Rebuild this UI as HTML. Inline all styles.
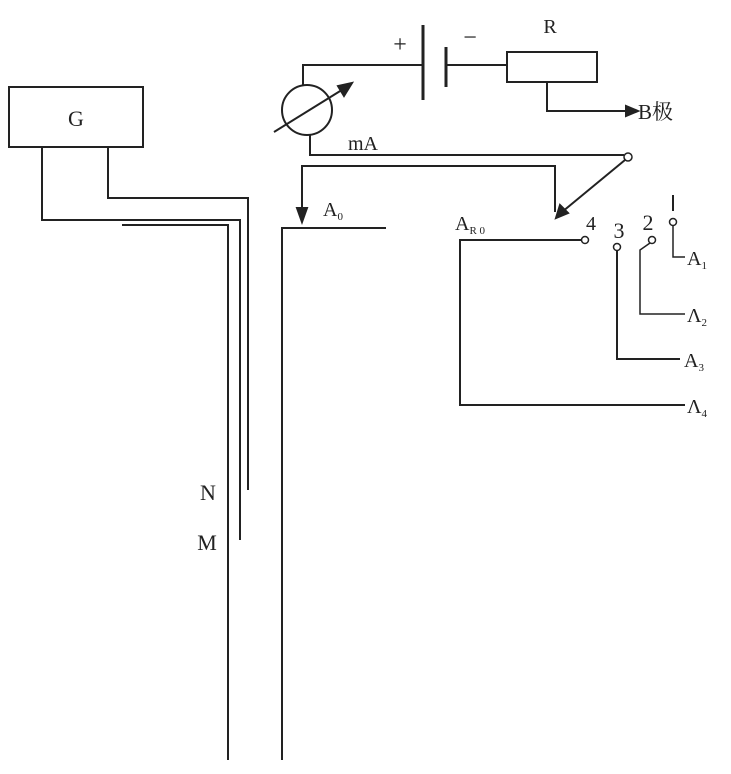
<!DOCTYPE html>
<html><head><meta charset="utf-8"><style>body{margin:0;background:#fff}</style></head><body>
<svg width="731" height="769" viewBox="0 0 731 769" xmlns="http://www.w3.org/2000/svg" font-family="Liberation Serif, Noto Serif CJK SC, serif" fill="none" stroke="#222" stroke-width="2">
<rect x="9" y="87" width="134" height="60"/>
<text x="76" y="126" font-size="22" fill="#222" stroke="none" text-anchor="middle">G</text>
<polyline points="42,147 42,220 240,220 240,540"/>
<polyline points="108,147 108,198 248,198 248,490"/>
<polyline points="122,225 228,225 228,760"/>
<polyline points="386,228 282,228 282,760"/>
<text x="208" y="500" font-size="22" fill="#222" stroke="none" text-anchor="middle">N</text>
<text x="207" y="550" font-size="22" fill="#222" stroke="none" text-anchor="middle">M</text>
<circle cx="307" cy="110" r="25"/>
<line x1="274" y1="132" x2="345" y2="88"/>
<polygon points="352,83 338,86 344,96" fill="#222"/>
<polyline points="303,85 303,65 423,65"/>
<line x1="423" y1="25" x2="423" y2="100" stroke-width="3"/>
<line x1="446" y1="47" x2="446" y2="87" stroke-width="3"/>
<line x1="446" y1="65" x2="507" y2="65"/>
<text x="400" y="52" font-size="24" fill="#222" stroke="none" text-anchor="middle">+</text>
<text x="470" y="45" font-size="24" fill="#222" stroke="none" text-anchor="middle">−</text>
<rect x="507" y="52" width="90" height="30"/>
<text x="550" y="33" font-size="20" fill="#222" stroke="none" text-anchor="middle">R</text>
<polyline points="547,82 547,111 628,111"/>
<polygon points="638,111 626,106 626,116" fill="#222"/>
<text x="638" y="119" font-size="21" fill="#222" stroke="none">B极</text>
<polyline points="310,135 310,155 624,155"/>
<text x="348" y="150" font-size="20" fill="#222" stroke="none">mA</text>
<circle cx="628" cy="157" r="4" stroke-width="1.5"/>
<polyline points="555,212 555,166 302,166 302,212"/>
<polygon points="302,222 297,208 307,208" fill="#222"/>
<line x1="625" y1="160" x2="562" y2="212"/>
<polygon points="556,218 560,205 568,213" fill="#222"/>
<text x="323" y="216" font-size="20" fill="#222" stroke="none">A<tspan font-size="11" dy="4">0</tspan></text>
<text x="455" y="230" font-size="20" fill="#222" stroke="none">A<tspan font-size="11" dy="4">R 0</tspan></text>
<polyline points="582,240 460,240 460,405 685,405"/>
<circle cx="585" cy="240" r="3.5" stroke-width="1.5"/>
<text x="591" y="230" font-size="20" fill="#222" stroke="none" text-anchor="middle">4</text>
<circle cx="617" cy="247" r="3.5" stroke-width="1.5"/>
<polyline points="617,251 617,359 680,359"/>
<text x="619" y="238" font-size="22" fill="#222" stroke="none" text-anchor="middle">3</text>
<circle cx="652" cy="240" r="3.5" stroke-width="1.5"/>
<polyline points="650,243 640,250 640,314 685,314" stroke-width="1.5"/>
<text x="648" y="230" font-size="22" fill="#222" stroke="none" text-anchor="middle">2</text>
<line x1="673" y1="195" x2="673" y2="211"/>
<circle cx="673" cy="222" r="3.5" stroke-width="1.5"/>
<polyline points="673,226 673,257 685,257" stroke-width="1.5"/>
<g fill="#222" stroke="none" font-size="20">
<text x="687" y="265">A<tspan font-size="11" dy="4">1</tspan></text>
<text x="687" y="322">Λ<tspan font-size="11" dy="4">2</tspan></text>
<text x="684" y="367">A<tspan font-size="11" dy="4">3</tspan></text>
<text x="687" y="413">Λ<tspan font-size="11" dy="4">4</tspan></text>
</g>
</svg>
</body></html>
